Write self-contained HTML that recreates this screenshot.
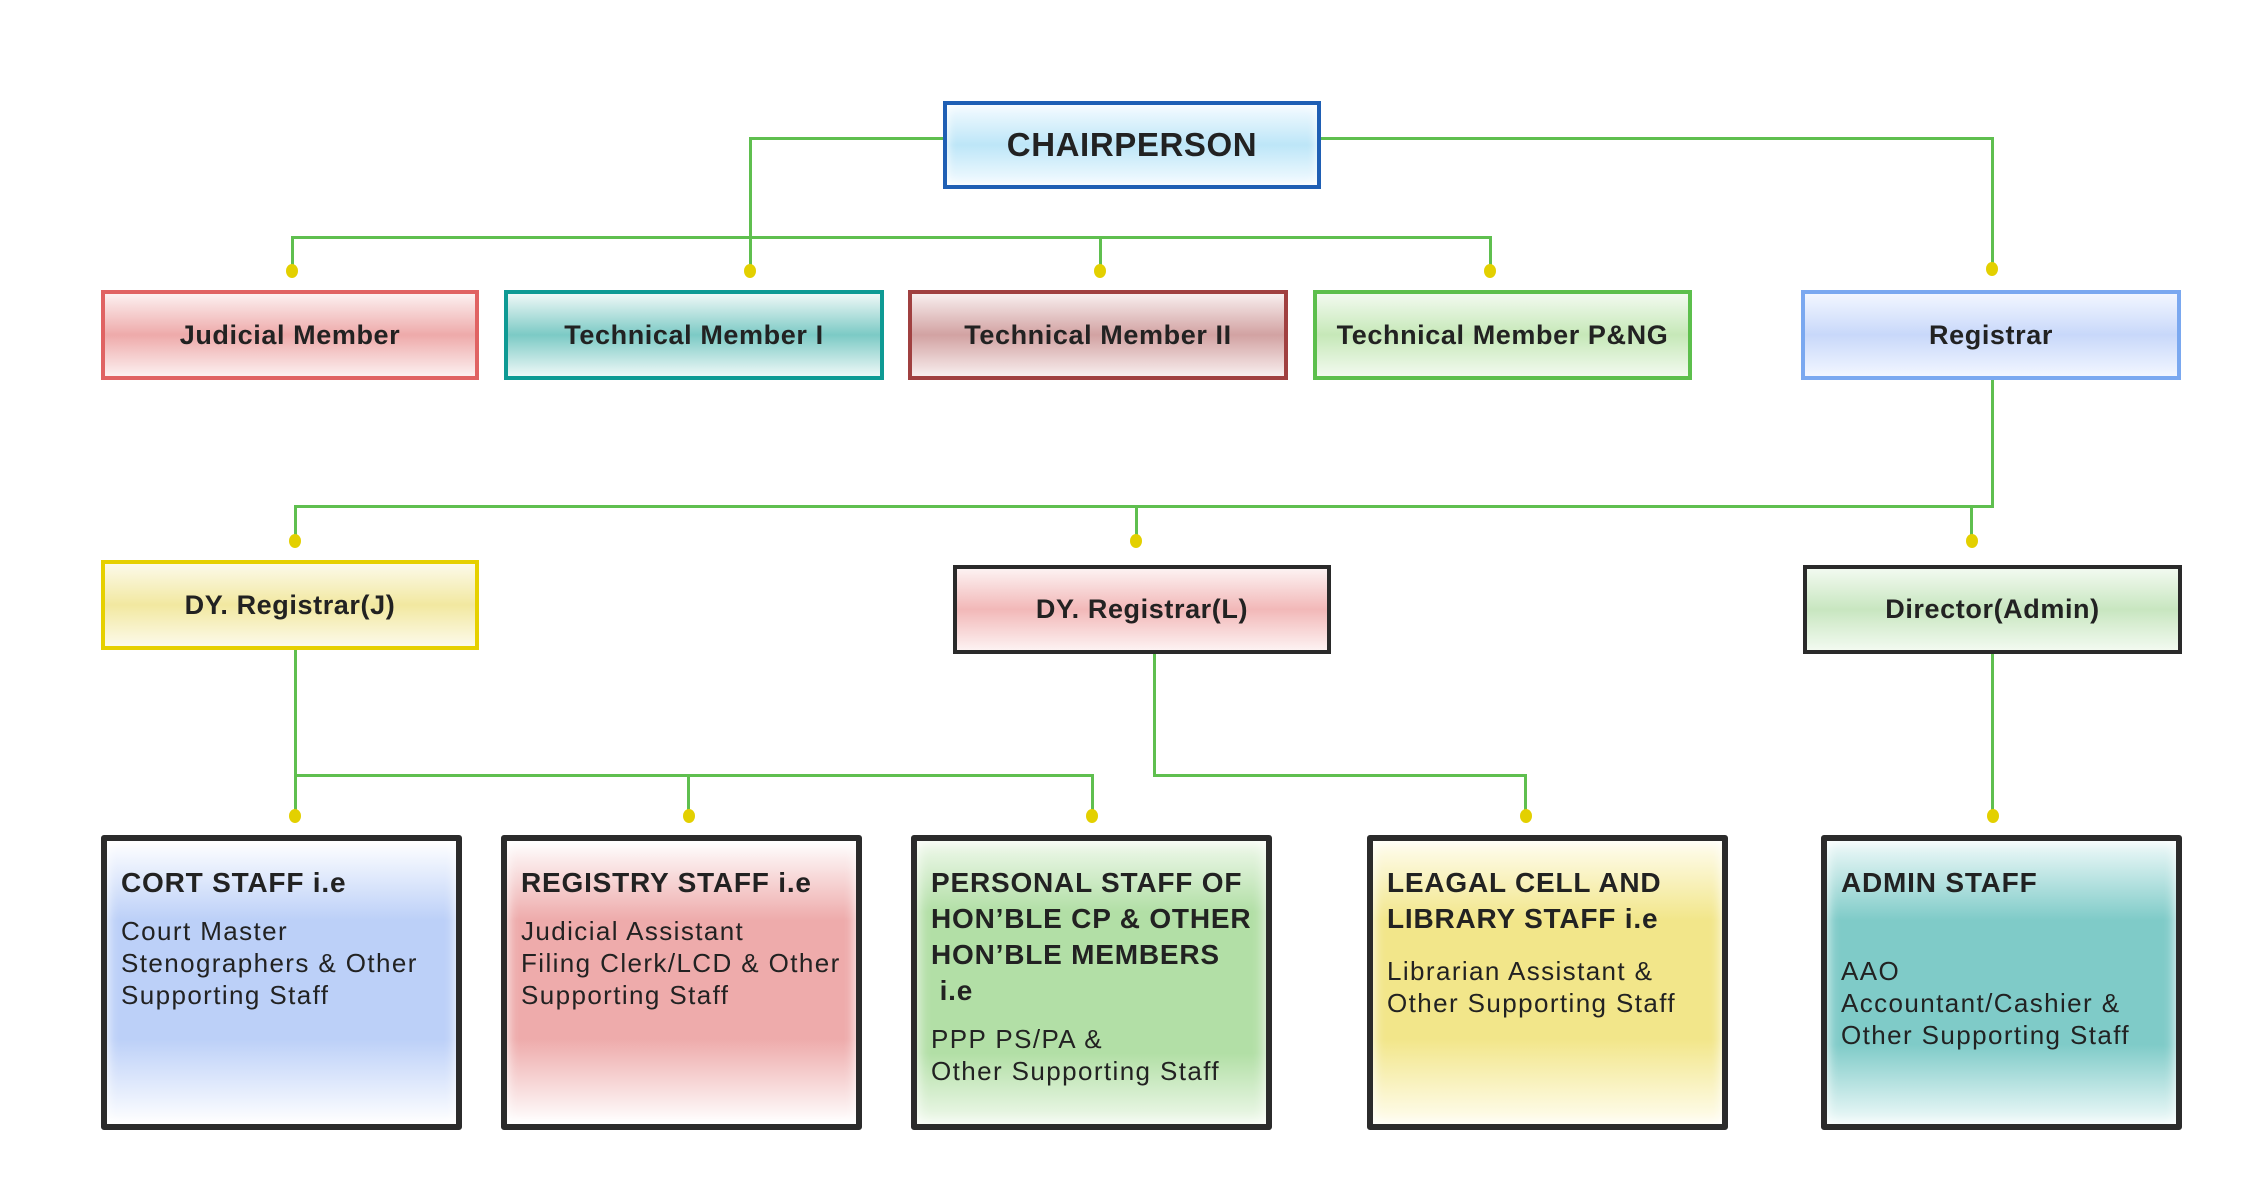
<!DOCTYPE html>
<html><head><meta charset="utf-8"><style>
body{margin:0;width:2264px;height:1203px;background:#fff;position:relative;overflow:hidden;font-family:"Liberation Sans",sans-serif;color:#222}
.b{position:absolute;box-sizing:border-box;}
.r1{display:flex;align-items:center;justify-content:center;font-weight:bold;font-size:27px;letter-spacing:0.6px;border-width:4px;border-style:solid}
.l{position:absolute;background:#5fbf4f}
.d{position:absolute;width:12px;height:14px;border-radius:50%;background:#e3d000;margin-left:-6px;margin-top:-7px}
.s{border:6px solid #2b2b2b;border-radius:3px;padding:24px 0 0 14px}
.t{font-weight:bold;font-size:28px;line-height:36px;letter-spacing:0.8px}
.p{font-size:26px;line-height:32px;letter-spacing:1.4px;margin-top:14px}
</style></head><body>
<!-- connectors -->
<div class="l" style="left:749px;top:137px;width:194px;height:3px"></div>
<div class="l" style="left:749px;top:137px;width:3px;height:134px"></div>
<div class="l" style="left:291px;top:236px;width:1201px;height:3px"></div>
<div class="l" style="left:291px;top:236px;width:3px;height:35px"></div>
<div class="l" style="left:1099px;top:236px;width:3px;height:35px"></div>
<div class="l" style="left:1489px;top:236px;width:3px;height:35px"></div>
<div class="l" style="left:1321px;top:137px;width:673px;height:3px"></div>
<div class="l" style="left:1991px;top:137px;width:3px;height:132px"></div>
<div class="d" style="left:292px;top:271px"></div><div class="d" style="left:750px;top:271px"></div>
<div class="d" style="left:1100px;top:271px"></div><div class="d" style="left:1490px;top:271px"></div>
<div class="d" style="left:1992px;top:269px"></div>

<div class="l" style="left:1991px;top:380px;width:3px;height:127px"></div>
<div class="l" style="left:294px;top:505px;width:1700px;height:3px"></div>
<div class="l" style="left:294px;top:505px;width:3px;height:36px"></div>
<div class="l" style="left:1135px;top:505px;width:3px;height:36px"></div>
<div class="l" style="left:1970px;top:505px;width:3px;height:36px"></div>
<div class="d" style="left:295px;top:541px"></div><div class="d" style="left:1136px;top:541px"></div><div class="d" style="left:1972px;top:541px"></div>

<div class="l" style="left:294px;top:650px;width:3px;height:166px"></div>
<div class="l" style="left:294px;top:774px;width:800px;height:3px"></div>
<div class="l" style="left:687px;top:774px;width:3px;height:42px"></div>
<div class="l" style="left:1091px;top:774px;width:3px;height:42px"></div>
<div class="l" style="left:1153px;top:654px;width:3px;height:123px"></div>
<div class="l" style="left:1153px;top:774px;width:374px;height:3px"></div>
<div class="l" style="left:1524px;top:774px;width:3px;height:42px"></div>
<div class="l" style="left:1991px;top:654px;width:3px;height:162px"></div>
<div class="d" style="left:295px;top:816px"></div><div class="d" style="left:689px;top:816px"></div>
<div class="d" style="left:1092px;top:816px"></div><div class="d" style="left:1526px;top:816px"></div><div class="d" style="left:1993px;top:816px"></div>

<!-- top -->
<div class="b r1" style="left:943px;top:101px;width:378px;height:88px;border-color:#1f5fb4;font-size:33px;background:linear-gradient(#f4fbff,#bde6f8 50%,#f4fbff);box-shadow:inset 0 0 10px #fff">CHAIRPERSON</div>

<div class="b r1" style="left:101px;top:290px;width:378px;height:90px;border-color:#e06262;background:linear-gradient(#fcf0f0,#eeaaaa 50%,#fcf0f0)">Judicial Member</div>
<div class="b r1" style="left:504px;top:290px;width:380px;height:90px;border-color:#0e9a94;background:linear-gradient(#eef8f7,#7ccac5 50%,#eef8f7)">Technical Member I</div>
<div class="b r1" style="left:908px;top:290px;width:380px;height:90px;border-color:#a04040;background:linear-gradient(#f8eeee,#d2a2a2 50%,#f8eeee)">Technical Member II</div>
<div class="b r1" style="left:1313px;top:290px;width:379px;height:90px;border-color:#5cbf4c;background:linear-gradient(#f2faef,#c6e8b8 50%,#f2faef)">Technical Member P&amp;NG</div>
<div class="b r1" style="left:1801px;top:290px;width:380px;height:90px;border-color:#7aa8f0;background:linear-gradient(#f2f6ff,#c8d8fa 50%,#f2f6ff)">Registrar</div>

<div class="b r1" style="left:101px;top:560px;width:378px;height:90px;border-color:#e6d000;background:linear-gradient(#fcfaea,#f2e8a0 50%,#fcfaea)">DY. Registrar(J)</div>
<div class="b r1" style="left:953px;top:565px;width:378px;height:89px;border-color:#2a2a2a;background:linear-gradient(#fdf2f2,#f2b8b8 50%,#fdf2f2)">DY. Registrar(L)</div>
<div class="b r1" style="left:1803px;top:565px;width:379px;height:89px;border-color:#2a2a2a;background:linear-gradient(#f2faf0,#c8e6c0 50%,#f2faf0)">Director(Admin)</div>

<!-- bottom -->
<div class="b s" style="left:101px;top:835px;width:361px;height:295px;background:linear-gradient(#fff,#bcd0f8 28%,#bcd0f8 70%,#fff);box-shadow:inset 0 0 12px #fff">
<div class="t">CORT STAFF i.e</div><div class="p">Court Master<br>Stenographers &amp; Other<br>Supporting Staff</div></div>
<div class="b s" style="left:501px;top:835px;width:361px;height:295px;background:linear-gradient(#fff,#eeabab 28%,#eeabab 70%,#fff);box-shadow:inset 0 0 12px #fff">
<div class="t">REGISTRY STAFF i.e</div><div class="p">Judicial Assistant<br>Filing Clerk/LCD &amp; Other<br>Supporting Staff</div></div>
<div class="b s" style="left:911px;top:835px;width:361px;height:295px;background:linear-gradient(#f0f9ec,#b2dfa6 25%,#b2dfa6 75%,#f0f9ec);box-shadow:inset 0 0 14px #fff">
<div class="t">PERSONAL STAFF OF<br>HON’BLE CP &amp; OTHER<br>HON’BLE MEMBERS<br>&nbsp;i.e</div><div class="p">PPP PS/PA &amp;<br>Other Supporting Staff</div></div>
<div class="b s" style="left:1367px;top:835px;width:361px;height:295px;background:linear-gradient(#fffdf0,#f2e68a 28%,#f2e68a 70%,#fffdf0);box-shadow:inset 0 0 12px #fff">
<div class="t">LEAGAL CELL AND<br>LIBRARY STAFF i.e</div><div class="p" style="margin-top:18px">Librarian Assistant &amp;<br>Other Supporting Staff</div></div>
<div class="b s" style="left:1821px;top:835px;width:361px;height:295px;background:linear-gradient(#f0fafa,#7fcbc8 28%,#7fcbc8 72%,#f0fafa);box-shadow:inset 0 0 12px #fff">
<div class="t">ADMIN STAFF</div><div class="p" style="margin-top:54px">AAO<br>Accountant/Cashier &amp;<br>Other Supporting Staff</div></div>
</body></html>
